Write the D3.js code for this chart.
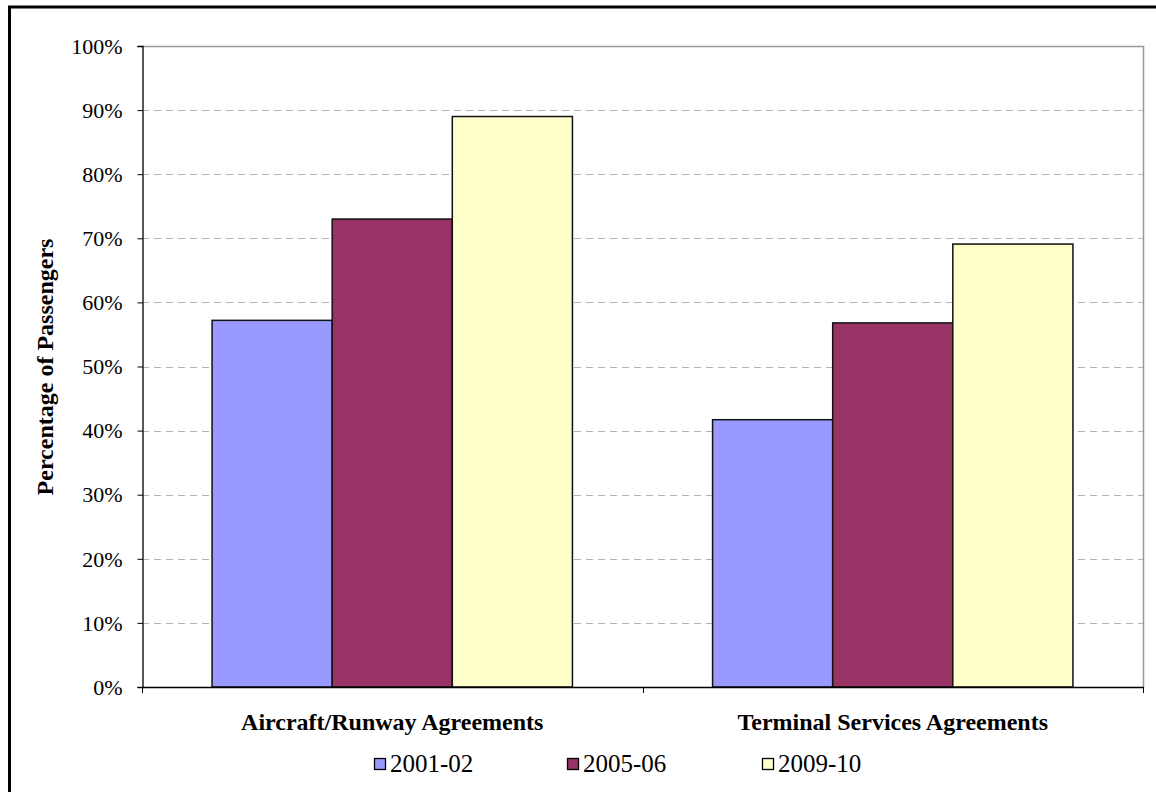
<!DOCTYPE html>
<html>
<head>
<meta charset="utf-8">
<script src="https://cdn.jsdelivr.net/npm/d3@7"></script>
<style>
  html, body { margin: 0; padding: 0; background: #fff; }
  svg { display: block; }
  text { font-family: "Liberation Serif", "Times New Roman", serif; fill: #000; }
</style>
</head>
<body>
<svg id="chart" width="1156" height="792"></svg>
<script>
// Share of passengers covered by agreements, by period
const categories = ["Aircraft/Runway Agreements", "Terminal Services Agreements"];
const seriesNames = ["2001-02", "2005-06", "2009-10"];
const values2001 = [0.572, 0.417];
const values2005 = [0.730, 0.568];
const values2009 = [0.890, 0.691];
const seriesValues = [values2001, values2005, values2009];
const yTicks = [0, 0.1, 0.2, 0.3, 0.4, 0.5, 0.6, 0.7, 0.8, 0.9, 1.0];
const colors = ["#9999FF", "#993366", "#FFFFCC"];

const svg = d3.select("#chart");
const plot = { left: 142, top: 46, right: 1143, bottom: 687 };

// Outer frame (top and left edges fall inside the canvas)
svg.append("path")
  .attr("d", `M9.5,1000 L9.5,7 L1200,7`)
  .attr("fill", "none").attr("stroke", "#000").attr("stroke-width", 3);

const y = d3.scaleLinear().domain([0, 1]).range([plot.bottom, plot.top]);
const x0 = d3.scaleBand().domain(categories).range([plot.left, plot.right]).padding(0);
const gapFrac = 0.14;
const x1 = d3.scaleBand().domain(seriesNames)
  .range([x0.bandwidth() * gapFrac, x0.bandwidth() * (1 - gapFrac)]).padding(0);

// Dashed gridlines
svg.append("g").selectAll("line")
  .data(yTicks.filter(t => t > 0 && t < 1))
  .join("line")
  .attr("x1", plot.left).attr("x2", plot.right)
  .attr("y1", d => Math.round(y(d)) + 0.5).attr("y2", d => Math.round(y(d)) + 0.5)
  .attr("stroke", "#b3b3b3").attr("stroke-width", 1)
  .attr("stroke-dasharray", "7,5");

// Plot frame top and right (gray)
svg.append("path")
  .attr("d", `M${plot.left},${plot.top + 0.5} L${plot.right + 0.5},${plot.top + 0.5} L${plot.right + 0.5},${plot.bottom}`)
  .attr("fill", "none").attr("stroke", "#999").attr("stroke-width", 1.5);

// Bars
const groups = svg.append("g").selectAll("g")
  .data(categories)
  .join("g")
  .attr("transform", d => `translate(${x0(d)},0)`);

groups.selectAll("rect")
  .data((d, i) => seriesNames.map((s, j) => ({ s, j, v: seriesValues[j][i] })))
  .join("rect")
  .attr("x", d => x1(d.s))
  .attr("y", d => y(d.v))
  .attr("width", x1.bandwidth())
  .attr("height", d => y(0) - y(d.v))
  .attr("fill", d => colors[d.j])
  .attr("stroke", "#111").attr("stroke-width", 1.5);

// Y axis
const yAxis = d3.axisLeft(y).tickValues(yTicks).tickFormat(d3.format(".0%"))
  .tickSize(5).tickPadding(15);
const gy = svg.append("g").attr("transform", `translate(${plot.left + 0.5},0)`).call(yAxis);
gy.select(".domain").attr("stroke", "#000").attr("stroke-width", 1.3);
gy.selectAll(".tick line").attr("stroke", "#000");
gy.selectAll(".tick text").style("font-size", "22px").style("font-family", "Liberation Serif").attr("dy", "0.33em");

// X axis
const xEdges = [plot.left, x0(categories[1]), plot.right];
svg.append("line")
  .attr("x1", plot.left).attr("x2", plot.right + 1)
  .attr("y1", plot.bottom + 0.5).attr("y2", plot.bottom + 0.5)
  .attr("stroke", "#000").attr("stroke-width", 1.3);
svg.append("g").selectAll("line").data(xEdges).join("line")
  .attr("x1", d => Math.round(d) + 0.5).attr("x2", d => Math.round(d) + 0.5)
  .attr("y1", plot.bottom).attr("y2", plot.bottom + 6)
  .attr("stroke", "#000").attr("stroke-width", 1);

svg.append("g").selectAll("text").data(categories).join("text")
  .attr("x", d => x0(d) + x0.bandwidth() / 2)
  .attr("y", 730)
  .attr("text-anchor", "middle")
  .style("font-size", "24px").style("font-weight", "bold")
  .text(d => d);

// Y axis title
svg.append("text")
  .attr("transform", `translate(53,367) rotate(-90)`)
  .attr("text-anchor", "middle")
  .style("font-size", "24px").style("font-weight", "bold")
  .text("Percentage of Passengers");

// Legend
const legendX = [374, 567, 762];
const legend = svg.append("g").selectAll("g").data(seriesNames).join("g")
  .attr("transform", (d, i) => `translate(${legendX[i]},758)`);
legend.append("rect")
  .attr("x", 0.5).attr("y", 0.5).attr("width", 11).attr("height", 11)
  .attr("fill", (d, i) => colors[i]).attr("stroke", "#000").attr("stroke-width", 1.3);
legend.append("text")
  .attr("x", 16).attr("y", 14)
  .style("font-size", "25px")
  .text(d => d);
</script>
</body>
</html>
